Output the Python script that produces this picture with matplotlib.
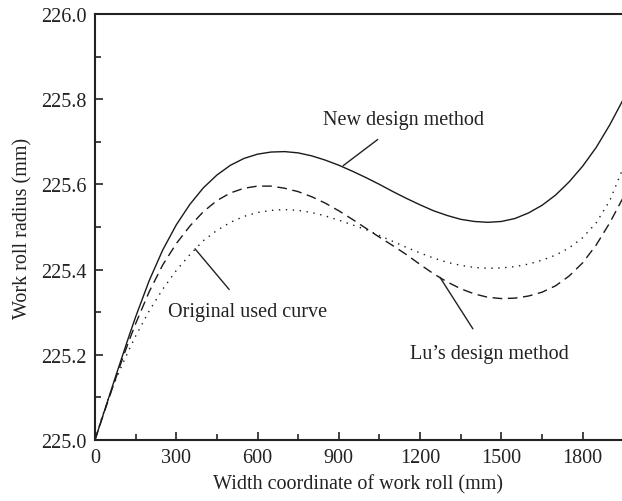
import matplotlib
matplotlib.use('Agg')
import matplotlib.pyplot as plt
from matplotlib.ticker import MultipleLocator

# width coordinate of the work roll (mm)
width = [0, 25, 50, 75, 100, 125, 150, 200, 250, 300, 350, 400, 450, 500,
         550, 600, 650, 700, 750, 800, 850, 900, 950, 1000, 1050, 1100,
         1150, 1200, 1250, 1300, 1350, 1400, 1450, 1500, 1550, 1600, 1650,
         1700, 1750, 1800, 1850, 1900, 1950]

# work roll radius (mm) for each curve
new_design = [225.000, 225.049, 225.098, 225.147, 225.195, 225.243, 225.289,
              225.374, 225.446, 225.505, 225.553, 225.592, 225.622, 225.645,
              225.661, 225.671, 225.676, 225.677, 225.674, 225.667, 225.657,
              225.645, 225.631, 225.616, 225.600, 225.583, 225.567, 225.552,
              225.538, 225.527, 225.518, 225.513, 225.511, 225.513, 225.520,
              225.533, 225.551, 225.575, 225.606, 225.643, 225.687, 225.740,
              225.800]

lu_design = [225.000, 225.048, 225.095, 225.142, 225.188, 225.232, 225.273,
             225.348, 225.411, 225.461, 225.502, 225.536, 225.562, 225.580,
             225.591, 225.596, 225.596, 225.591, 225.583, 225.571, 225.556,
             225.538, 225.518, 225.497, 225.476, 225.456, 225.435, 225.412,
             225.390, 225.371, 225.355, 225.343, 225.335, 225.332, 225.333,
             225.338, 225.347, 225.362, 225.385, 225.416, 225.458, 225.510,
             225.570]

original = [225.000, 225.052, 225.098, 225.139, 225.176, 225.211, 225.244,
            225.303, 225.354, 225.398, 225.435, 225.468, 225.492, 225.511,
            225.525, 225.534, 225.539, 225.541, 225.539, 225.534, 225.526,
            225.516, 225.505, 225.494, 225.480, 225.466, 225.452, 225.439,
            225.427, 225.417, 225.410, 225.405, 225.403, 225.404, 225.407,
            225.413, 225.422, 225.434, 225.451, 225.475, 225.510, 225.562,
            225.640]

x_ticks = [0, 300, 600, 900, 1200, 1500, 1800]
y_ticks = [225.0, 225.2, 225.4, 225.6, 225.8, 226.0]

plt.rcParams['font.family'] = ['Liberation Serif', 'DejaVu Serif']
plt.rcParams['font.size'] = 14.5

fig = plt.figure(figsize=(6.22, 5.02), dpi=100)
ax = fig.add_axes([0.1527, 0.1215, 0.8473, 0.8486])

ax.plot(width, new_design, color='#1a1a1a', lw=1.0, ls='-')
ax.plot(width, lu_design, color='#1a1a1a', lw=1.0, ls=(0, (7, 4)))
ax.plot(width, original, color='#1a1a1a', lw=1.0, ls=(0, (1, 4)))

ax.set_xlim(0, 1945)
ax.set_ylim(225.0, 226.0)
ax.set_xticks(x_ticks)
ax.set_yticks(y_ticks)
ax.set_yticklabels(['%.1f' % v for v in y_ticks])
ax.xaxis.set_minor_locator(MultipleLocator(150))
ax.yaxis.set_minor_locator(MultipleLocator(0.1))
ax.tick_params(which='both', direction='in', colors='#222222',
               top=False, right=False, width=1.2)
ax.tick_params(which='major', length=5.5, pad=6)
ax.tick_params(which='minor', length=4)

for side in ['left', 'bottom', 'top']:
    ax.spines[side].set_linewidth(1.5)
    ax.spines[side].set_color('#222222')
ax.spines['right'].set_visible(False)

ax.set_xlabel('Width coordinate of work roll (mm)', color='#222222', labelpad=5)
ax.set_ylabel('Work roll radius (mm)', color='#222222', labelpad=6)

# curve labels with leader lines
ax.annotate('New design method', xy=(916, 225.644), xytext=(1140, 225.752),
            ha='center', va='center', color='#222222',
            arrowprops=dict(arrowstyle='-', color='#222222', lw=1.0,
                            shrinkA=9, shrinkB=0))
ax.annotate('Original used curve', xy=(369, 225.449), xytext=(563, 225.302),
            ha='center', va='center', color='#222222',
            arrowprops=dict(arrowstyle='-', color='#222222', lw=1.0,
                            shrinkA=9, shrinkB=0))
ax.annotate('Lu\u2019s design method', xy=(1273, 225.382), xytext=(1454, 225.202),
            ha='center', va='center', color='#222222',
            arrowprops=dict(arrowstyle='-', color='#222222', lw=1.0,
                            shrinkA=11, shrinkB=0))

fig.savefig('out.png', dpi=100)
